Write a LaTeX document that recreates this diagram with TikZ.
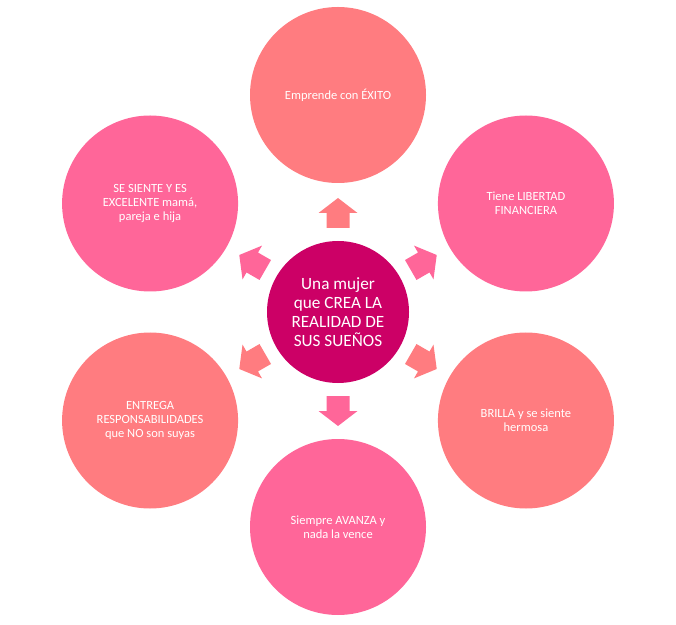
\documentclass[tikz,border=0pt]{standalone}
\usepackage{fontspec}
\setmainfont{Carlito}
\definecolor{salmon}{HTML}{FF7C80}
\definecolor{pinkc}{HTML}{FF6699}
\definecolor{magc}{HTML}{CC0066}
\begin{document}
\begin{tikzpicture}[x=1pt,y=1pt,
  outer/.style={circle,minimum size=176,inner sep=0pt,text=white,align=center,
    font=\fontsize{12.5}{14.2}\selectfont},
  inner/.style={circle,minimum size=142,inner sep=0pt,text=white,align=center,fill=magc,
    font=\fontsize{17.2}{19}\selectfont}]
\useasboundingbox (0,0) rectangle (676,624);
\coordinate (c) at (338,312);
\node[inner] (mid) at (c) {Una mujer\\que CREA LA\\REALIDAD DE\\SUS SUEÑOS};
\node[outer,fill=salmon] (n1) at ([shift={(90:217)}]c) {Emprende con ÉXITO};
\node[outer,fill=pinkc] (n2) at ([shift={(30:217)}]c) {Tiene LIBERTAD\\FINANCIERA};
\node[outer,fill=salmon] (n3) at ([shift={(-30:217)}]c) {BRILLA y se siente\\hermosa};
\node[outer,fill=pinkc] (n4) at ([shift={(-90:215)}]c) {Siempre AVANZA y\\nada la vence};
\node[outer,fill=salmon] (n5) at ([shift={(210:217)}]c) {ENTREGA\\RESPONSABILIDADES\\que NO son suyas};
\node[outer,fill=pinkc] (n6) at ([shift={(150:217)}]c) {SE SIENTE Y ES\\EXCELENTE mamá,\\pareja e hija};
\foreach \a/\col in {90/salmon,30/pinkc,-30/salmon,-90/pinkc,210/salmon,150/pinkc}{
  \fill[\col,shift={(c)},rotate=\a] (84,-11.5) -- (99,-11.5) -- (99,-19.5) -- (114,0)
     -- (99,19.5) -- (99,11.5) -- (84,11.5) -- cycle;
}
\end{tikzpicture}
\end{document}
